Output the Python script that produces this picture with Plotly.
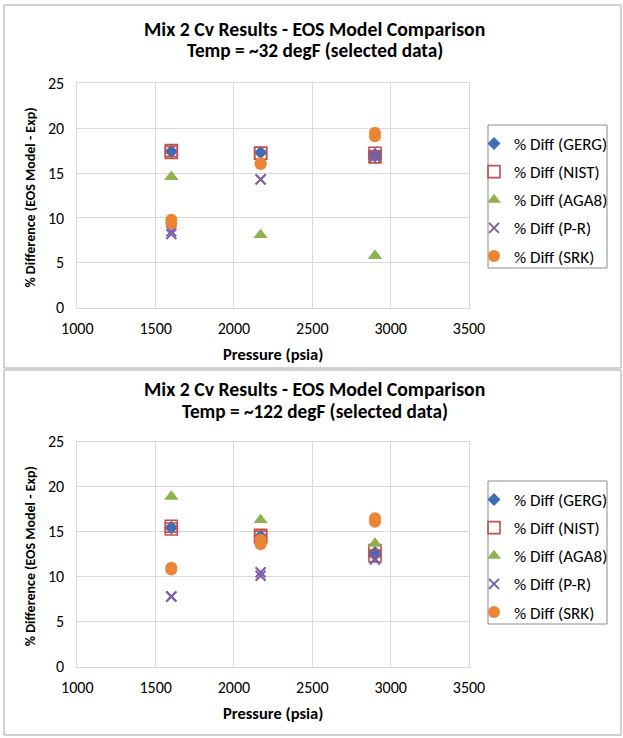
import plotly.graph_objects as go

W, H = 623, 738

# ---------------- data ----------------
series_names = ["% Diff (GERG)", "% Diff (NIST)", "% Diff (AGA8)", "% Diff (P-R)", "% Diff (SRK)"]

# Top chart: Temp ~32 degF
p32 = [1600, 1600, 2170, 2170, 2900, 2900]
gerg_32 = [17.4, 17.4, 17.3, 17.3, 17.1, 16.9]
nist_32 = [17.5, 17.3, 17.2, 17.2, 17.2, 16.8]
aga8_32 = [14.6, 14.6, 8.1, 8.1, 5.8, 5.8]
pr_32 = [8.2, 8.5, 14.3, 14.3, 17.0, 16.8]
srk_32 = [9.4, 9.8, 16.0, 16.1, 19.1, 19.5]

# Bottom chart: Temp ~122 degF
p122 = [1600, 1600, 2170, 2170, 2900, 2900]
gerg_122 = [15.5, 15.4, 14.5, 14.5, 12.7, 12.4]
nist_122 = [15.6, 15.3, 14.6, 14.4, 12.9, 12.3]
aga8_122 = [18.9, 18.9, 16.3, 16.3, 13.7, 13.7]
pr_122 = [7.8, 7.8, 10.1, 10.5, 12.0, 11.9]
srk_122 = [10.8, 11.0, 13.6, 14.1, 16.1, 16.5]

title_line1 = ["Mix 2 Cv Results - EOS Model Comparison", "Mix 2 Cv Results - EOS Model Comparison"]
title_line2 = ["Temp = ~32 degF (selected data)", "Temp = ~122 degF (selected data)"]
x_title = "Pressure (psia)"
y_title = "% Difference (EOS Model - Exp)"

# ---------------- styling ----------------
FONT = "Carlito, Lato, 'Open Sans', sans-serif"
styles = [
    dict(symbol="diamond", size=10, color="#3F6DB5", line=dict(width=0)),
    dict(symbol="square-open", size=12, color="#C0504D", line=dict(width=1.6, color="#C0504D")),
    dict(symbol="triangle-up", size=12, color="#8DB24E", line=dict(width=0)),
    dict(symbol="x-thin", size=10, color="#7B5EA7", line=dict(width=2, color="#7B5EA7")),
    dict(symbol="circle", size=12, color="#EB8535", line=dict(width=0)),
]

def px_x(v):
    return v / W

def px_y(v):
    return 1 - v / H

fig = go.Figure()

charts = [
    (p32, [gerg_32, nist_32, aga8_32, pr_32, srk_32], "x", "y", "legend"),
    (p122, [gerg_122, nist_122, aga8_122, pr_122, srk_122], "x2", "y2", "legend2"),
]
for pres, vals, xa, ya, lg in charts:
    for name, v, st in zip(series_names, vals, styles):
        fig.add_trace(go.Scatter(
            x=pres, y=v, mode="markers", name=name, marker=st,
            xaxis=xa, yaxis=ya, legend=lg, legendgroup=lg + name,
            cliponaxis=False,
        ))

# plot-area geometry (pixels)
x_left, x_right = 77.3, 469.0
plots = [(83.3, 307.7), (441.7, 666.7)]

axis_common = dict(
    showgrid=True, gridcolor="#D9D9D9", gridwidth=1,
    showline=True, linecolor="#D9D9D9", linewidth=1, mirror=True,
    zeroline=False, ticks="", automargin=False,
    tickfont=dict(family=FONT, size=16, color="#000000"),
)

dom_x = [px_x(x_left), px_x(x_right)]
fig.update_layout(
    xaxis=dict(domain=dom_x, range=[1000, 3500], dtick=500, anchor="y", ticklabelstandoff=6, **axis_common),
    yaxis=dict(domain=[px_y(plots[0][1]), px_y(plots[0][0])], range=[0, 25], dtick=5, anchor="x",
               ticklabelstandoff=9, **axis_common),
    xaxis2=dict(domain=dom_x, range=[1000, 3500], dtick=500, anchor="y2", ticklabelstandoff=6, **axis_common),
    yaxis2=dict(domain=[px_y(plots[1][1]), px_y(plots[1][0])], range=[0, 25], dtick=5, anchor="x2",
                ticklabelstandoff=9, **axis_common),
)

legend_common = dict(
    borderwidth=0, bgcolor="rgba(0,0,0,0)",
    font=dict(family=FONT, size=17, color="#000000"),
    xanchor="left", yanchor="top", tracegroupgap=3, itemsizing="trace",
)
fig.update_layout(
    legend=dict(x=px_x(474), y=px_y(126), **legend_common),
    legend2=dict(x=px_x(474), y=px_y(482), **legend_common),
)

annotations = []
shapes = []
borders = [(4, 5, 621, 368), (4, 370, 621, 735)]
legend_boxes = [(488, 125, 607, 268), (488, 481, 607, 624)]
title_y = [29, 389]
for i, (top, bot) in enumerate(plots):
    annotations.append(dict(
        text="<b>" + title_line1[i] + "</b>", x=px_x(314.5), y=px_y(title_y[i]), xref="paper", yref="paper",
        xanchor="center", yanchor="middle", showarrow=False,
        font=dict(family=FONT, size=19.8, color="#000000"),
    ))
    annotations.append(dict(
        text="<b>" + title_line2[i] + "</b>", x=px_x(314.5), y=px_y(title_y[i] + 22), xref="paper", yref="paper",
        xanchor="center", yanchor="middle", showarrow=False,
        font=dict(family=FONT, size=19.3, color="#000000"),
    ))
    annotations.append(dict(
        text="<b>" + x_title + "</b>", x=px_x((x_left + x_right) / 2), y=px_y(bot + 46),
        xref="paper", yref="paper", xanchor="center", yanchor="middle", showarrow=False,
        font=dict(family=FONT, size=16.5, color="#000000"),
    ))
    annotations.append(dict(
        text="<b>" + y_title + "</b>", x=px_x(30), y=px_y((top + bot) / 2 + 2),
        xref="paper", yref="paper", xanchor="center", yanchor="middle", showarrow=False,
        textangle=-90, font=dict(family=FONT, size=14, color="#000000"),
    ))
    x0, y0, x1, y1 = borders[i]
    shapes.append(dict(type="rect", xref="paper", yref="paper",
                       x0=px_x(x0), x1=px_x(x1), y0=px_y(y1), y1=px_y(y0),
                       line=dict(color="#A6A6A6", width=1), fillcolor="rgba(0,0,0,0)", layer="below"))
    lx0, ly0, lx1, ly1 = legend_boxes[i]
    shapes.append(dict(type="rect", xref="paper", yref="paper",
                       x0=px_x(lx0), x1=px_x(lx1), y0=px_y(ly1), y1=px_y(ly0),
                       line=dict(color="#8C8C8C", width=1), fillcolor="rgba(0,0,0,0)", layer="below"))

fig.update_layout(
    width=W, height=H, margin=dict(l=0, r=0, t=0, b=0, autoexpand=False),
    paper_bgcolor="white", plot_bgcolor="white",
    annotations=annotations, shapes=shapes, showlegend=True,
)

fig.write_html("out.html")
